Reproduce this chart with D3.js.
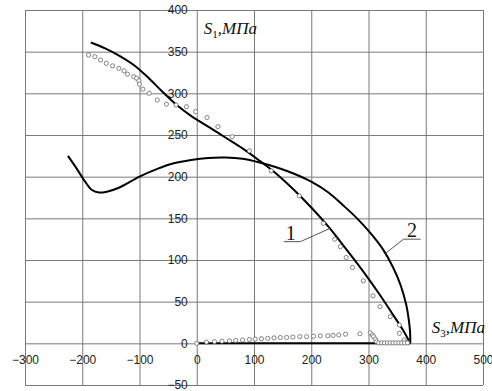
<!DOCTYPE html>
<html>
<head>
<meta charset="utf-8">
<script src="https://cdn.jsdelivr.net/npm/d3@7"></script>
<style>
  body { margin: 0; background: #fff; }
  svg { display: block; }
</style>
</head>
<body>
<div id="chart"></div>
<script>
// curve 1 (S1 vs S3)
const line1X = [-185, -160, -135, -110, -85, -60, -35, -10, 20, 50, 80, 110, 140, 170, 200, 230, 260, 290, 320, 345, 362, 373];
const line1Y = [361, 354, 345, 334, 319, 302, 286, 273, 260, 247, 234, 219, 203, 184, 163, 140, 114, 87, 58, 32, 14, 0];

// curve 2
const line2X = [-225, -210, -195, -183, -171, -157, -135, -100, -70, -40, -10, 20, 50, 80, 110, 140, 170, 200, 230, 255, 280, 305, 325, 343, 356, 366, 370, 372.5, 373];
const line2Y = [225, 210, 194, 184, 181, 182, 187, 200, 209, 216, 220, 222.5, 223, 221.5, 217, 211, 203.5, 194, 181, 166, 150, 131, 113, 91, 70, 46, 30, 15, 0];

// closing segment along the S3 axis
const baseX = [0, 373];
const baseY = [0, 0];

// experimental points, upper branch
const dotsUpX = [-189, -178, -168, -158, -147, -136, -127, -121, -110, -105, -101, -100, -94, -83, -69, -53, -36, -18, -2, 18, 37, 62, 92, 130, 179, 221, 241, 251, 261, 272, 291, 308, 320, 338, 354, 354, 362, 368];
const dotsUpY = [346, 344, 340, 336, 333, 330, 327, 323, 320, 318, 315, 311, 305, 300, 292, 287, 286, 284, 278, 271, 260, 248, 231, 207, 177, 144, 125, 116, 103, 91, 75, 57, 44, 32, 22, 12, 4, 1];

// experimental points, lower branch
const dotsLowX = [0, 17, 31, 44, 57, 68, 80, 92, 102, 113, 124, 135, 146, 157, 168, 180, 192, 204, 216, 229, 238, 248, 260, 285, 303, 307, 309, 312, 314, 318, 323, 328, 333, 338, 343, 348, 353, 358, 363, 368];
const dotsLowY = [0, 1.5, 2, 2.5, 3, 3.5, 4, 4.5, 5, 5.5, 6, 6.5, 7, 7, 7.5, 8, 8, 8.5, 9, 9, 9.5, 10, 11, 11.5, 12.5, 10, 8, 5, 2, 0.5, 0.5, 0.5, 0.5, 0.5, 0.5, 0.5, 0.5, 0.5, 0.5, 0.5];

const xTicks = [-300, -200, -100, 0, 100, 200, 300, 400, 500];
const yTicks = [-50, 0, 50, 100, 150, 200, 250, 300, 350, 400];

// curve labels: text position, underline ends, pointer end (data units)
const labels = [
  { text: '1', tx: 164, ty: 124, ux0: 152, ux1: 181, uy: 122, px: 233, py: 138, from: 'right' },
  { text: '2', tx: 376, ty: 128, ux0: 361, ux1: 391, uy: 125, px: 330, py: 108, from: 'left' }
];

const W = 492, H = 391;
const margin = { top: 10, right: 9, bottom: 6, left: 25 };

const svg = d3.select('#chart').append('svg')
  .attr('width', W).attr('height', H);

const x = d3.scaleLinear().domain([-300, 500]).range([margin.left, W - margin.right]);
const y = d3.scaleLinear().domain([-50, 400]).range([H - margin.bottom, margin.top]);

// grid
svg.append('g')
  .attr('transform', `translate(0,${y(-50)})`)
  .call(d3.axisBottom(x).tickValues(xTicks).tickSize(-(y(-50) - y(400))).tickFormat(''))
  .call(g => g.select('.domain').remove())
  .call(g => g.selectAll('line').attr('stroke', '#7a7a7a'));

svg.append('g')
  .attr('transform', `translate(${x(-300)},0)`)
  .call(d3.axisLeft(y).tickValues(yTicks).tickSize(-(x(500) - x(-300))).tickFormat(''))
  .call(g => g.select('.domain').remove())
  .call(g => g.selectAll('line').attr('stroke', '#7a7a7a'));

// tick labels along the axes through zero
svg.append('g')
  .attr('transform', `translate(0,${y(0)})`)
  .call(d3.axisBottom(x).tickValues(xTicks).tickSize(0).tickPadding(12))
  .call(g => g.select('.domain').remove())
  .call(g => g.selectAll('text').attr('font-family', 'Liberation Sans, Arial, sans-serif')
    .attr('font-size', 12).attr('fill', '#222'));

svg.append('g')
  .attr('transform', `translate(${x(0)},0)`)
  .call(d3.axisLeft(y).tickValues(yTicks).tickSize(0).tickPadding(9))
  .call(g => g.select('.domain').remove())
  .call(g => g.selectAll('text').attr('font-family', 'Liberation Sans, Arial, sans-serif')
    .attr('font-size', 12).attr('fill', '#222'));

// curves
const line = d3.line().x(d => x(d[0])).y(d => y(d[1])).curve(d3.curveCatmullRom.alpha(0.5));

[[line1X, line1Y], [line2X, line2Y]].forEach(([xs, ys]) => {
  svg.append('path')
    .datum(xs.map((v, i) => [v, ys[i]]))
    .attr('d', line)
    .attr('fill', 'none')
    .attr('stroke', '#000')
    .attr('stroke-width', 2);
});

svg.append('path')
  .datum(baseX.map((v, i) => [v, baseY[i]]))
  .attr('d', d3.line().x(d => x(d[0])).y(d => y(d[1])))
  .attr('stroke', '#000')
  .attr('stroke-width', 2);

// points
const dots = dotsUpX.map((v, i) => [v, dotsUpY[i]])
  .concat(dotsLowX.map((v, i) => [v, dotsLowY[i]]));

svg.append('g')
  .selectAll('circle')
  .data(dots)
  .enter().append('circle')
  .attr('cx', d => x(d[0]))
  .attr('cy', d => y(d[1]))
  .attr('r', 2.1)
  .attr('fill', '#fff')
  .attr('stroke', '#666')
  .attr('stroke-width', 0.8);

// curve labels with leaders
labels.forEach(l => {
  const sx = l.from === 'right' ? l.ux1 : l.ux0;
  svg.append('path')
    .attr('d', `M${x(l.ux0)},${y(l.uy)}H${x(l.ux1)}M${x(sx)},${y(l.uy)}L${x(l.px)},${y(l.py)}`)
    .attr('fill', 'none')
    .attr('stroke', '#555')
    .attr('stroke-width', 1);
  svg.append('text')
    .attr('x', x(l.tx)).attr('y', y(l.ty))
    .attr('text-anchor', 'middle')
    .attr('font-family', 'Liberation Serif, Times New Roman, serif')
    .attr('font-size', 20)
    .attr('fill', '#111')
    .text(l.text);
});

// axis titles
function axisTitle(px, py, sub) {
  const t = svg.append('text')
    .attr('x', px).attr('y', py)
    .attr('font-family', 'Liberation Serif, Times New Roman, serif')
    .attr('font-style', 'italic')
    .attr('font-size', 17)
    .attr('fill', '#111');
  t.append('tspan').text('S');
  t.append('tspan').attr('dy', 4).attr('font-size', 11).attr('font-style', 'normal').text(sub);
  t.append('tspan').attr('dy', -4).text(',МПа');
}
axisTitle(x(0) + 7, y(400) + 24, '1');
axisTitle(x(400) + 6, y(0) - 10, '3');
</script>
</body>
</html>
